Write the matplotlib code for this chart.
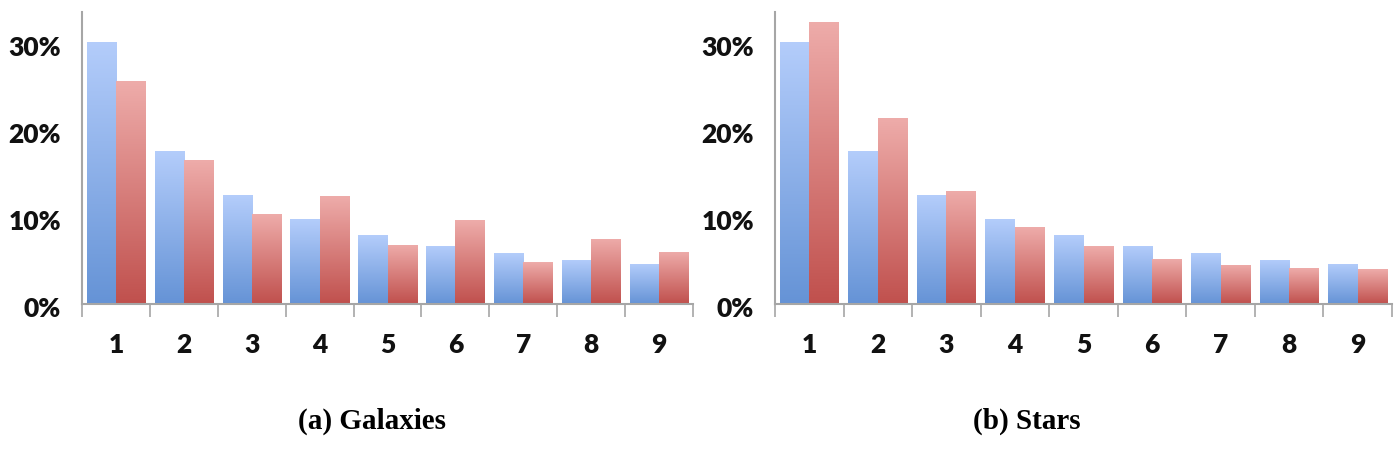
import numpy as np
import matplotlib
matplotlib.use("Agg")
import matplotlib.pyplot as plt
from matplotlib.colors import LinearSegmentedColormap
from matplotlib.ticker import FuncFormatter
from matplotlib.transforms import ScaledTranslation

digits = [1, 2, 3, 4, 5, 6, 7, 8, 9]
benford = [30.1, 17.6, 12.5, 9.7, 7.9, 6.7, 5.8, 5.1, 4.6]
galaxies = [25.6, 16.5, 10.3, 12.4, 6.8, 9.6, 4.8, 7.5, 6.0]
stars = [32.4, 21.3, 13.0, 8.8, 6.6, 5.2, 4.5, 4.1, 4.0]
yticks = [0, 10, 20, 30]
captions = ["(a) Galaxies", "(b) Stars"]

blue_cmap = LinearSegmentedColormap.from_list("b", ["#6593d6", "#b4cdfb"])
red_cmap = LinearSegmentedColormap.from_list("r", ["#c0504d", "#eeacaa"])

fig = plt.figure(figsize=(13.98, 4.53), dpi=100)
axes = [fig.add_axes([0.0587, 0.329, 0.437, 0.644]),
        fig.add_axes([0.5544, 0.329, 0.4413, 0.644])]
cap_x = [0.266, 0.7346]

grad = np.linspace(0, 1, 256).reshape(-1, 1)
w = 0.43

def gradient_bars(ax, x, vals, cmap):
    bars = ax.bar(x, vals, width=w, color="none", edgecolor="none", zorder=2)
    for b in bars:
        x0, y0 = b.get_x(), b.get_y()
        im = ax.imshow(grad, cmap=cmap, origin="lower", aspect="auto",
                       extent=[x0, x0 + b.get_width(), y0, y0 + b.get_height()],
                       zorder=2)
        im.set_clip_path(b)

x = np.arange(len(digits))
shift = ScaledTranslation(0, -3 / 100, fig.dpi_scale_trans)
for ax, obs, cap, cx in zip(axes, [galaxies, stars], captions, cap_x):
    gradient_bars(ax, x - w / 2, benford, blue_cmap)
    gradient_bars(ax, x + w / 2, obs, red_cmap)
    ax.set_xlim(-0.5, len(digits) - 0.5)
    ax.set_ylim(0, 33.5)
    ax.set_yticks(yticks)
    ax.yaxis.set_major_formatter(FuncFormatter(lambda v, p: f"{int(v)}%"))
    ax.set_xticks(x)
    ax.set_xticklabels([str(d) for d in digits])
    ax.set_xticks(np.arange(-0.5, len(digits), 1.0), minor=True)
    ax.tick_params(axis="x", which="major", length=0, pad=21)
    ax.tick_params(axis="x", which="minor", length=9, color="#a6a6a6", width=1.2)
    ax.tick_params(axis="y", length=0, pad=15)
    for lab in ax.get_xticklabels() + ax.get_yticklabels():
        lab.set_fontfamily("Lato")
        lab.set_fontweight("heavy")
        lab.set_fontsize(19)
        lab.set_color("#111111")
    for lab in ax.get_yticklabels():
        lab.set_transform(lab.get_transform() + shift)
    for s in ["top", "right"]:
        ax.spines[s].set_visible(False)
    for s in ["left", "bottom"]:
        ax.spines[s].set_color("#a6a6a6")
        ax.spines[s].set_linewidth(1.5)
    fig.text(cx, 1 - 421 / 453, cap, ha="center", va="center",
             fontfamily="Liberation Serif", fontweight="bold", fontsize=21)

fig.savefig("out.png", dpi=100)
